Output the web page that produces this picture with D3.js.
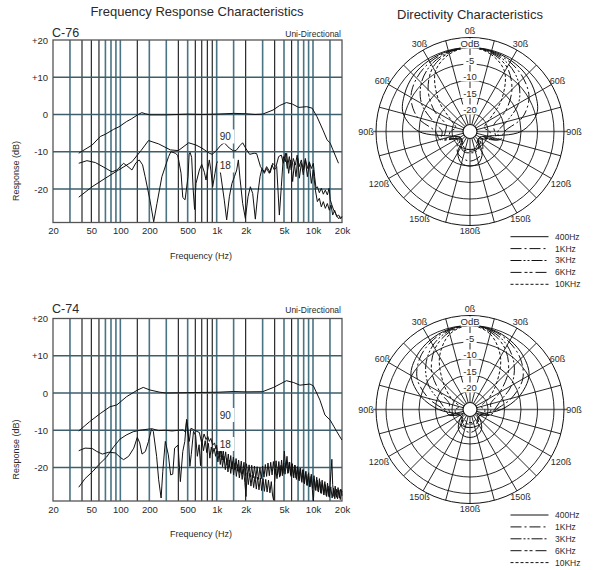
<!DOCTYPE html>
<html><head><meta charset="utf-8">
<script src="https://cdn.jsdelivr.net/npm/d3@7"></script>
<style>
body{margin:0;background:#fff;}
svg{display:block;font-family:"Liberation Sans",Arial,sans-serif;}
</style></head><body>
<svg id="c" width="593" height="570"></svg>
<script>
// ---------- DATA ----------
const freqTicks = [20,50,100,200,500,1000,2000,5000,10000,20000];
const freqTickLabels = ["20","50","100","200","500","1k","2k","5k","10k","20k"];
const dbTicks = [20,10,0,-10,-20];
const dbTickLabels = ["+20","+10","0","-10","-20"];
const gridTeal = [30,70,80,90,100,200,300,500,1000,1500,3000,5000,7000,8000,9000,10000,15000];
const gridBlack = [40,50,60,150,400,600,700,800,900,2000,4000,6000];
const gridH = [10,0,-10,-20];

// C-76 curves [Hz, dB]
const onAxis76 = [[37,-10.4],[51,-8.2],[62,-5.9],[70,-5.3],[85,-4.0],[97,-3.3],[116,-1.9],[130,-1.2],[151,-0.1],[167,0.5],[182,0.2],[203,-0.1],[300,-0.1],[500,0.1],[700,0],[1000,0.1],[1500,0.3],[2000,0.2],[2500,0],[3000,0.1],[3850,1.2],[4500,2.4],[5300,3.2],[6100,2.8],[7100,1.9],[8600,2.1],[9800,1.7],[11000,-0.6],[12700,-4.2],[14000,-6.8],[15100,-7.7],[16100,-9.5],[18400,-13.1]];
const ninety76 = [[37,-22.2],[51,-19.4],[70,-17.1],[96,-14.9],[132,-12.7],[165,-9.6],[196,-7.0],[250,-7.9],[330,-9.5],[400,-9.7],[512,-7.6],[610,-8.2],[700,-9.0],[839,-10.4],[900,-10.7],[1000,-9.6],[1100,-8.3],[1200,-7.6],[1350,-9.0],[1500,-9.8],[1600,-9.6],[1750,-8.3],[1862,-7.6],[2016,-9.2],[2200,-10.7],[2450,-10.4],[2600,-10.5],[2850,-14.0],[3125,-15.4],[3300,-14.0],[3600,-15.6],[3815,-13.1],[4130,-14.0],[4400,-11.3],[4690,-10.9],[4920,-13.1],[5165,-10.4],[5400,-14.5],[5680,-11.3],[5950,-14.9],[6250,-11.8],[6550,-13.6],[6850,-10.9],[7200,-14.0],[7560,-12.2],[7930,-14.9],[8330,-11.8],[8740,-14.5],[9160,-12.7],[9610,-14.5],[10080,-13.1],[10400,-16.7],[10750,-19.8],[11100,-19.4],[11640,-21.0],[12200,-19.8],[12800,-21.4],[13430,-20.3],[14090,-21.6],[14700,-19.8],[15100,-22.9],[15700,-24.3],[16400,-25.7],[17100,-26.5],[17800,-27.4],[18500,-28.0],[19500,-27.4]];
const one80_76 = [[37,-13.1],[45,-12.4],[55,-12.9],[70,-14.4],[82,-15.4],[92,-14.9],[108,-13.1],[120,-14.0],[132,-14.9],[145,-13.0],[157,-12.2],[170,-13.5],[181,-16.7],[203,-23.0],[222,-28.8],[240,-23.9],[270,-16.7],[317,-11.3],[335,-10.0],[372,-10.4],[395,-11.0],[427,-15.8],[445,-22.3],[470,-22.9],[504,-16.7],[518,-10.6],[530,-10.2],[550,-11.5],[570,-20.0],[590,-25.5],[610,-18.5],[661,-14.9],[700,-13.4],[745,-15.5],[775,-17.6],[806,-14.9],[839,-12.2],[870,-14.9],[909,-19.4],[960,-15.8],[1000,-13.1],[1040,-12.5],[1100,-16.0],[1200,-23.0],[1270,-28.3],[1354,-22.1],[1440,-18.5],[1530,-16.7],[1614,-14.9],[1680,-12.2],[1746,-17.1],[1862,-23.9],[1985,-27.9],[2115,-22.1],[2238,-19.4],[2365,-21.2],[2520,-28.1],[2665,-21.6],[2820,-16.7],[2955,-14.5],[3125,-15.8],[3300,-14.5],[3522,-15.8],[3755,-13.6],[3970,-14.9],[4200,-14.0],[4474,-27.0],[4690,-19.4],[4920,-11.3],[5165,-12.7],[5330,-10.4],[5590,-15.8],[5830,-12.2],[6150,-18.0],[6400,-13.1],[6660,-16.7],[6940,-11.8],[7220,-17.1],[7570,-13.1],[7930,-16.2],[8330,-12.2],[8740,-16.7],[9160,-13.1],[9610,-18.5],[10080,-14.9],[10580,-20.3],[11100,-23.4],[11640,-22.5],[12200,-24.8],[12800,-23.4],[13430,-25.2],[14090,-23.9],[14780,-25.7],[15380,-24.3],[16010,-27.0],[16780,-25.7],[17600,-27.4],[18480,-27.0],[19370,-28.0],[20000,-27.4]];

// C-74 curves [Hz, dB]
const onAxis74 = [[37,-10.2],[48,-7.7],[62,-5.5],[78,-3.7],[92,-3.2],[116,-1.0],[151,0.8],[173,1.5],[203,0.8],[258,0.2],[300,0],[500,0.1],[1000,0.2],[1500,0.4],[2000,0.3],[3000,0.35],[3900,1.5],[5300,3.3],[6300,2.8],[7300,2.1],[9300,2.4],[10100,1.9],[11800,-1.9],[13300,-5.9],[15100,-7.3],[17700,-10.4],[19900,-12.6]];
const ninety74 = [[37,-25.3],[43,-23.0],[52,-21.0],[60,-19.2],[72,-17.2],[85,-14.5],[99,-12.4],[115,-11.3],[136,-10.4],[160,-10.0],[195,-9.7],[213,-9.6],[250,-10.1],[293,-10.0],[344,-10.2],[403,-10.0],[450,-9.9],[473,-10.5],[489,-7.2],[500,-10.5],[520,-13.0],[540,-9.5],[575,-9.8],[610,-10.2],[661,-10.6],[700,-13.5],[740,-11.0],[775,-12.5],[810,-11.7],[839,-13.0],[870,-12.2],[909,-14.0],[950,-13.4],[984,-15.1],
 [1000,-14.0],[1030,-16.5],[1050,-13.8],[1080,-17.2],[1110,-14.6],[1140,-18.0],[1170,-15.2],[1200,-18.6],[1240,-15.8],[1280,-19.4],[1320,-16.4],[1360,-19.8],[1400,-16.8],[1440,-20.4],[1490,-17.2],[1540,-20.6],[1590,-17.6],[1640,-21.0],[1690,-18.0],[1740,-21.4],[1800,-18.3],[1860,-21.8],[1920,-18.6],[1980,-22.2],[2040,-19.0],[2100,-22.4],[2170,-19.3],[2240,-22.6],[2310,-19.4],[2390,-22.8],[2470,-19.6],[2550,-23.0],[2630,-19.8],[2720,-23.2],[2810,-20.0],[2900,-23.0],[3000,-19.6],[3100,-22.6],[3200,-19.2],[3300,-22.4],[3410,-18.8],[3520,-22.2],[3640,-18.6],[3760,-22.0],[3880,-18.4],[4010,-21.8],[4140,-18.2],[4280,-22.0],[4420,-18.4],[4570,-22.2],[4720,-18.0],[4870,-21.6],[5040,-15.6],[5200,-20.0],[5370,-17.0],[5550,-21.4],[5730,-18.6],[5920,-22.4],[6110,-19.0],[6310,-22.8],[6520,-19.4],[6730,-23.2],[6950,-19.8],[7180,-23.6],[7420,-20.2],[7660,-24.0],[7910,-20.6],[8170,-24.4],[8440,-21.0],[8720,-24.8],[9000,-21.4],[9300,-25.2],[9600,-21.8],[9920,-25.6],[10250,-22.2],[10580,-26.0],[10930,-22.6],[11290,-26.4],[11660,-23.0],[12040,-26.8],[12440,-23.4],[12850,-27.2],[13270,-23.8],[13700,-27.5],[14150,-24.2],[14620,-27.8],[15100,-24.0],[15400,-21.0],[15700,-17.8],[16000,-24.6],[16500,-27.8],[17000,-25.0],[17600,-28.0],[18200,-25.4],[18800,-28.2],[19400,-25.8],[20000,-26.5]];
const one80_74 = [[37,-15.5],[43,-14.8],[51,-14.9],[57,-15.7],[65,-16.4],[76,-15.9],[89,-16.1],[100,-17.3],[108,-17.9],[122,-17.0],[138,-14.8],[150,-11.9],[159,-13.4],[168,-16.4],[182,-15.7],[196,-13.0],[210,-9.8],[220,-10.3],[238,-17.0],[250,-23.3],[265,-28.2],[276,-21.0],[293,-13.0],[315,-16.6],[333,-22.0],[350,-21.8],[366,-14.8],[397,-14.0],[420,-23.8],[445,-15.7],[467,-13.0],[487,-7.1],[505,-9.8],[527,-19.7],[545,-16.5],[575,-10.3],[605,-11.4],[630,-17.0],[657,-13.9],[680,-19.5],[700,-12.5],[730,-15.5],[760,-12.8],[790,-16.0],[820,-13.5],[850,-17.5],[880,-14.5],[909,-16.3],[940,-14.8],[975,-17.0],
 [1000,-15.5],[1030,-18.5],[1060,-16.0],[1090,-19.2],[1120,-16.6],[1150,-19.8],[1190,-17.0],[1230,-20.6],[1270,-17.6],[1310,-21.2],[1350,-18.0],[1400,-21.6],[1450,-18.4],[1500,-22.0],[1550,-18.8],[1600,-22.4],[1660,-19.2],[1720,-22.8],[1780,-19.8],[1840,-23.2],[1900,-20.4],[1960,-24.0],[2016,-27.8],[2070,-21.4],[2130,-24.6],[2200,-21.6],[2270,-25.0],[2340,-22.0],[2420,-25.4],[2500,-22.4],[2580,-25.8],[2660,-22.6],[2750,-26.0],[2840,-22.8],[2930,-26.2],[3030,-23.0],[3130,-26.4],[3230,-23.2],[3340,-26.6],[3450,-23.4],[3570,-26.8],[3690,-23.8],[3800,-27.4],[3900,-28.8],[3990,-24.0],[4100,-20.4],[4230,-23.0],[4370,-19.8],[4510,-22.6],[4660,-19.4],[4810,-22.2],[4970,-18.8],[5130,-21.8],[5300,-18.4],[5480,-21.6],[5660,-18.6],[5850,-22.0],[6040,-19.0],[6240,-22.4],[6450,-19.4],[6660,-22.8],[6880,-19.8],[7110,-23.2],[7350,-20.2],[7590,-23.6],[7840,-20.6],[8100,-24.2],[8370,-21.2],[8650,-24.8],[8940,-21.8],[9240,-25.2],[9550,-22.4],[9850,-26.0],[10100,-29.0],[10350,-23.2],[10690,-26.2],[11040,-23.4],[11400,-26.6],[11780,-23.8],[12170,-27.0],[12570,-24.2],[12990,-27.4],[13420,-24.6],[13860,-27.8],[14320,-25.0],[14800,-28.0],[15300,-25.2],[15800,-28.2],[16300,-25.6],[16840,-28.4],[17400,-25.8],[17980,-28.4],[18580,-26.0],[19200,-28.6],[19800,-26.4],[20000,-27.6]];

// Polar data: dB at angles (one side, symmetric)
const polarAngles = [0,15,30,45,60,75,90,105,120,135,150,165,180];
const ringDb = [0,-5,-10,-15,-20];
const ringLabels = ["OdB","-5","-10","-15","-20"];
const spokeAngles = [0,15,30,45,60,75,90,105,120,135,150,165,180,195,210,225,240,255,270,285,300,315,330,345];
const angleLabelAngles = [0,30,60,90,120,150,180,-30,-60,-90,-120,-150];
const angleLabels = ["0ß","30ß","60ß","90ß","120ß","150ß","180ß","30ß","60ß","90ß","120ß","150ß"];
const legendLabels = ["400Hz","1KHz","3KHz","6KHz","10KHz"];
const c76_400 = [0,-0.2,-0.6,-1.3,-2.6,-4.5,-10,-20,-22,-22,-18,-15.5,-15];
const c76_1k  = [0,-0.4,-1.2,-2.6,-4.8,-9,-15,-16,-21,-20,-18,-17,-16.5];
const c76_3k  = [0,-0.6,-2,-4.6,-8.5,-14,-17,-16.5,-21,-22,-20,-19,-19];
const c76_6k  = [0,-0.8,-3,-7.5,-13,-18,-18,-17.5,-22,-21,-20,-19.5,-19.5];
const c76_10k = [0,-1.2,-4.5,-12,-19,-21,-19.5,-19,-21,-22,-21,-20,-20];
const c74_400 = [0,-0.3,-1.2,-2.6,-4.8,-10,-16,-21,-23,-21,-18.5,-17.3,-17];
const c74_1k  = [0,-0.5,-1.8,-3.8,-7,-12.5,-17.5,-19,-22,-22,-20,-19,-18.5];
const c74_3k  = [0,-0.8,-3,-6.5,-11,-16,-18,-19,-22,-22,-21,-20,-20];
const c74_6k  = [0,-1.2,-4.2,-9,-15,-19,-19,-20,-22,-22,-21,-21,-21];
const c74_10k = [0,-1.8,-7,-14,-19,-22,-21,-21,-22,-22,-22,-21.5,-21.5];

// ---------- STYLE ----------
const TEAL = "#4a7383", HGRID = "#3d5f6d", DARK = "#151515", TXT = "#2a2a2a";
const dashes = [null, "11,3,2,3", "11,2,2,2,2,2", "11,3,3,2,3,3", "3,2"];

const svg = d3.select("#c");

svg.append("text").attr("x",197).attr("y",15.5).attr("text-anchor","middle")
  .attr("font-size",13).attr("fill",TXT).text("Frequency Response Characteristics");
svg.append("text").attr("x",470).attr("y",19).attr("text-anchor","middle")
  .attr("font-size",13).attr("fill",TXT).text("Directivity Characteristics");

function drawFR(oy, model, titleY, curves){
  const x = d3.scaleLog().domain([20,20000]).range([53,342]);
  const y = d3.scaleLinear().domain([-29,20]).range([222.5+oy, 40+oy]);
  const g = svg.append("g");
  g.selectAll("line.t").data(gridTeal).join("line")
    .attr("x1",d=>x(d)).attr("x2",d=>x(d)).attr("y1",y(20)).attr("y2",y(-29))
    .attr("stroke",TEAL).attr("stroke-width",1.6);
  g.selectAll("line.b").data(gridBlack).join("line")
    .attr("x1",d=>x(d)).attr("x2",d=>x(d)).attr("y1",y(20)).attr("y2",y(-29))
    .attr("stroke",DARK).attr("stroke-width",1.1);
  g.selectAll("line.h").data(gridH).join("line")
    .attr("x1",x(20)).attr("x2",x(20000)).attr("y1",d=>y(d)).attr("y2",d=>y(d))
    .attr("stroke",HGRID).attr("stroke-width",1.6);
  g.append("rect").attr("x",x(20)).attr("y",y(20)).attr("width",x(20000)-x(20))
    .attr("height",y(-29)-y(20)).attr("fill","none").attr("stroke","#555").attr("stroke-width",1.3);
  const line = d3.line().x(d=>x(d[0])).y(d=>y(d[1]));
  curves.forEach(c=>{
    g.append("path").attr("d",line(c)).attr("fill","none").attr("stroke","#111").attr("stroke-width",1);
  });
  [["90",136.5],["18",165.5]].forEach(([t,cy])=>{
    g.append("rect").attr("x",x(1000)+1.2).attr("y",cy-7+oy).attr("width",16.5).attr("height",14).attr("fill","#fff");
    g.append("text").attr("x",x(1000)+3).attr("y",cy+oy).attr("dy","0.35em")
      .attr("font-size",10).attr("fill",TXT).text(t);
  });
  const ya = d3.axisLeft(y).tickValues(dbTicks).tickSize(0).tickPadding(5)
    .tickFormat((d,i)=>dbTickLabels[i]);
  const ga = g.append("g").attr("transform",`translate(${x(20)},0)`).call(ya);
  ga.select(".domain").remove();
  ga.selectAll("text").attr("font-size",9.5).attr("fill",TXT).attr("font-family",null);
  const xa = d3.axisBottom(x).tickValues(freqTicks).tickSize(0).tickPadding(5)
    .tickFormat((d,i)=>freqTickLabels[i]);
  const gb = g.append("g").attr("transform",`translate(0,${y(-29)})`).call(xa);
  gb.select(".domain").remove();
  gb.selectAll("text").attr("font-size",9.5).attr("fill",TXT).attr("font-family",null);
  g.append("text").attr("x",201).attr("y",258.5+oy).attr("text-anchor","middle")
    .attr("font-size",9).attr("fill",TXT).text("Frequency (Hz)");
  g.append("text").attr("transform",`translate(19,${171+oy}) rotate(-90)`).attr("text-anchor","middle")
    .attr("font-size",9).attr("fill",TXT).text("Response (dB)");
  g.append("text").attr("x",52).attr("y",titleY).attr("font-size",12.5).attr("fill",TXT).text(model);
  g.append("text").attr("x",341).attr("y",titleY-0.5).attr("text-anchor","end")
    .attr("font-size",8.5).attr("fill",TXT).text("Uni-Directional");
}

function drawPolar(cx, cy, legendTop, series){
  const r = d3.scaleLinear().domain([-20,0]).range([18,84]);
  const rInner = 7, rOuter = 94;
  const g = svg.append("g").attr("transform",`translate(${cx},${cy})`);
  g.selectAll("line.sp").data(spokeAngles).join("line")
    .attr("x1",d=>rInner*Math.sin(d*Math.PI/180)).attr("y1",d=>-rInner*Math.cos(d*Math.PI/180))
    .attr("x2",d=>rOuter*Math.sin(d*Math.PI/180)).attr("y2",d=>-rOuter*Math.cos(d*Math.PI/180))
    .attr("stroke","#111").attr("stroke-width",0.9);
  g.append("line").attr("x1",-97).attr("x2",97).attr("y1",0).attr("y2",0)
    .attr("stroke","#6a6a6a").attr("stroke-width",1.6);
  g.selectAll("circle.rg").data(ringDb).join("circle").attr("r",d=>r(d))
    .attr("fill","none").attr("stroke","#111").attr("stroke-width",0.9);
  g.append("circle").attr("r",rOuter).attr("fill","none").attr("stroke","#111").attr("stroke-width",1);
  g.append("circle").attr("r",rInner).attr("fill","#fff").attr("stroke","#111").attr("stroke-width",1.2);
  const rl = d3.lineRadial().curve(d3.curveCatmullRomClosed.alpha(0.5))
    .angle(d=>d[0]*Math.PI/180).radius(d=>Math.max(rInner+1, r(d[1])));
  series.forEach((vals,i)=>{
    const pts = polarAngles.map((a,k)=>[a,vals[k]]);
    const mirror = polarAngles.slice(1,-1).reverse().map(a=>[360-a, vals[polarAngles.indexOf(a)]]);
    g.append("path").attr("d",rl(pts.concat(mirror))).attr("fill","none")
      .attr("stroke","#111").attr("stroke-width",1)
      .attr("stroke-dasharray",dashes[i]);
  });
  ringDb.forEach((d,i)=>{
    const yy = -(r(d)+3.5);
    const w = ringLabels[i].length*5.6+2;
    g.append("rect").attr("x",-w/2).attr("y",yy-5.5).attr("width",w).attr("height",10).attr("fill","#fff");
    g.append("text").attr("x",0).attr("y",yy).attr("dy","0.35em").attr("text-anchor","middle")
      .attr("font-size",9.5).attr("fill",TXT).text(ringLabels[i]);
  });
  angleLabelAngles.forEach((a,i)=>{
    const abs = Math.abs(a);
    const rr = abs===90?104:(abs===120?105:(abs===180?99:101));
    g.append("text").attr("x",rr*Math.sin(a*Math.PI/180)).attr("y",-rr*Math.cos(a*Math.PI/180))
      .attr("dy","0.35em").attr("text-anchor","middle").attr("font-size",9).attr("fill",TXT).text(angleLabels[i]);
  });
  const lg = svg.append("g");
  legendLabels.forEach((t,i)=>{
    const yy = legendTop + i*11.9;
    lg.append("line").attr("x1",510.5).attr("x2",548.5).attr("y1",yy).attr("y2",yy)
      .attr("stroke","#111").attr("stroke-width",1).attr("stroke-dasharray",dashes[i]);
    lg.append("text").attr("x",555).attr("y",yy).attr("dy","0.35em").attr("font-size",8.5)
      .attr("fill",TXT).text(t);
  });
}

drawFR(0, "C-76", 37, [onAxis76, ninety76, one80_76]);
drawFR(278.5, "C-74", 313, [onAxis74, ninety74, one80_74]);
drawPolar(470, 131.5, 236.7, [c76_400,c76_1k,c76_3k,c76_6k,c76_10k]);
drawPolar(470, 409.5, 515, [c74_400,c74_1k,c74_3k,c74_6k,c74_10k]);
</script>
</body></html>
